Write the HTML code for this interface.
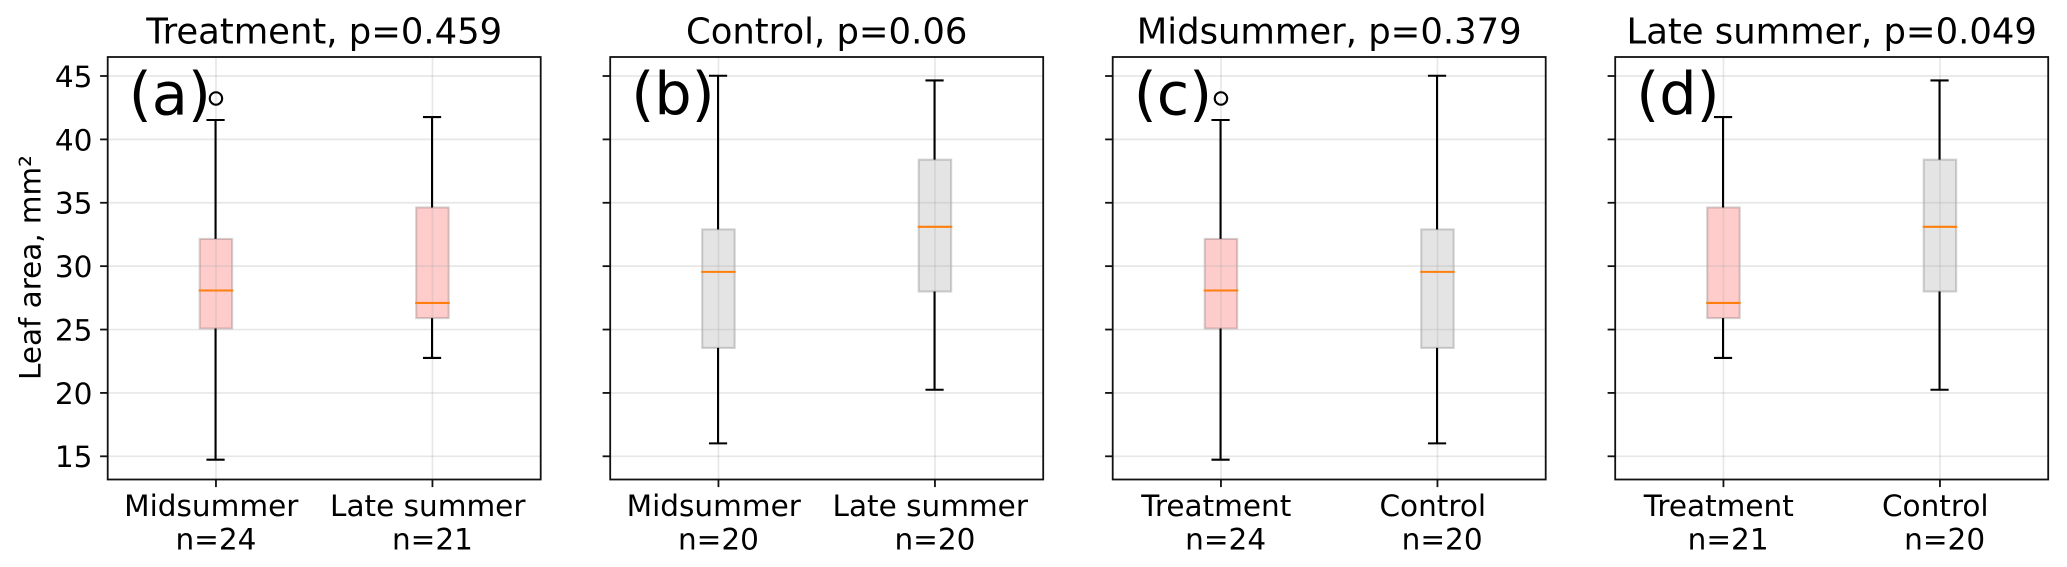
<!DOCTYPE html>
<html lang="en">
<head>
<meta charset="utf-8">
<title>Leaf area box plots</title>
<style>
html,body{margin:0;padding:0;background:#fff;}
svg{display:block;}
text{font-family:"DejaVu Sans","Liberation Sans",sans-serif;fill:#000;white-space:pre;}
</style>
</head>
<body>
<svg id="chart" xmlns="http://www.w3.org/2000/svg" width="2067" height="567" viewBox="0 0 2067 567"></svg>
<script>
const panelTitles = ["Treatment, p=0.459", "Control, p=0.06", "Midsummer, p=0.379", "Late summer, p=0.049"];
const panelTags = ["(a)", "(b)", "(c)", "(d)"];
const panelCategories = [
  ["Midsummer ", "Late summer "],
  ["Midsummer ", "Late summer "],
  ["Treatment ", "Control "],
  ["Treatment ", "Control "]
];
const panelSampleLabels = [
  ["n=24", "n=21"],
  ["n=20", "n=20"],
  [" n=24", " n=20"],
  [" n=21", " n=20"]
];
const yTicks = [15, 20, 25, 30, 35, 40, 45];
const yLabelText = "Leaf area, mm\u00B2";

/* stats: whisker low, Q1, median, Q3, whisker high */
const treatmentMidsummer = [14.73, 25.08, 28.08, 32.15, 41.53];
const treatmentLateSummer = [22.76, 25.9, 27.1, 34.63, 41.76];
const controlMidsummer = [16.02, 23.55, 29.55, 32.9, 45.02];
const controlLateSummer = [20.25, 28.0, 33.1, 38.4, 44.65];
const treatmentMidsummerOutliers = [43.23];
const treatmentLateSummerOutliers = [];
const controlMidsummerOutliers = [];
const controlLateSummerOutliers = [];

const panelStats = [
  [treatmentMidsummer, treatmentLateSummer],
  [controlMidsummer, controlLateSummer],
  [treatmentMidsummer, controlMidsummer],
  [treatmentLateSummer, controlLateSummer]
];
const panelOutliers = [
  [treatmentMidsummerOutliers, treatmentLateSummerOutliers],
  [controlMidsummerOutliers, controlLateSummerOutliers],
  [treatmentMidsummerOutliers, controlMidsummerOutliers],
  [treatmentLateSummerOutliers, controlLateSummerOutliers]
];
const panelGroups = [
  ["treatment", "treatment"],
  ["control", "control"],
  ["treatment", "control"],
  ["treatment", "control"]
];

const svg = document.getElementById('chart');
const NS = 'http://www.w3.org/2000/svg';
const plotTop = 57, plotBottom = 479.5, plotWidth = 433, firstLeft = 107.7, panelStep = 502.5;
const yDomainTop = 46.5, yDomainBottom = 13.17;
const xDomainLeft = 0.5, xDomainRight = 2.5;
const boxWidthUnits = 0.15, capWidthUnits = 0.084;
const groupFill = {treatment: 'rgba(255,0,0,0.2)', control: 'rgba(128,128,128,0.21)'};

function yScale(v) {
  return plotTop + (yDomainTop - v) / (yDomainTop - yDomainBottom) * (plotBottom - plotTop);
}
function xScale(pos, left) {
  return left + (pos - xDomainLeft) / (xDomainRight - xDomainLeft) * plotWidth;
}
function make(tag, attrs, parent) {
  const el = document.createElementNS(NS, tag);
  for (const k in attrs) el.setAttribute(k, attrs[k]);
  (parent || svg).appendChild(el);
  return el;
}
function seg(x1, y1, x2, y2, stroke, width, parent) {
  return make('line', {x1: x1, y1: y1, x2: x2, y2: y2, stroke: stroke, 'stroke-width': width}, parent);
}

const gridColor = 'rgba(176,176,176,0.3)';

panelTitles.forEach(function (title, p) {
  const left = firstLeft + p * panelStep;
  const right = left + plotWidth;
  const group = make('g', {});
  
  

  const background = make('rect', {x: left, y: plotTop, width: plotWidth, height: plotBottom - plotTop, fill: '#fff'}, group);
  
  

  /* boxes under the grid */
  panelStats[p].forEach(function (stats, i) {
    const cx = xScale(i + 1, left);
    const halfBox = boxWidthUnits / 2 * plotWidth / (xDomainRight - xDomainLeft);
    const box = make('rect', {
      x: cx - halfBox, y: yScale(stats[3]), width: 2 * halfBox, height: yScale(stats[1]) - yScale(stats[3]),
      fill: groupFill[panelGroups[p][i]], stroke: 'rgba(0,0,0,0.17)', 'stroke-width': 2.1
    }, group);
    
    
  });

  /* grid */
  yTicks.forEach(function (t) {
    const gridLine = seg(left, yScale(t), right, yScale(t), gridColor, 1.7, group);
    
    
  });
  [1, 2].forEach(function (pos) {
    const gridLine = seg(xScale(pos, left), plotTop, xScale(pos, left), plotBottom, gridColor, 1.7, group);
    
    
  });

  /* whiskers, caps, medians, outliers */
  panelStats[p].forEach(function (stats, i) {
    const cx = xScale(i + 1, left) - 0.4;
    const halfBox = boxWidthUnits / 2 * plotWidth / (xDomainRight - xDomainLeft);
    const halfCap = capWidthUnits / 2 * plotWidth / (xDomainRight - xDomainLeft);

    const lowerWhisker = seg(cx, yScale(stats[1]), cx, yScale(stats[0]), '#000', 2.1, group);
    
    

    const upperWhisker = seg(cx, yScale(stats[3]), cx, yScale(stats[4]), '#000', 2.1, group);
    
    

    const lowerCap = seg(cx - halfCap, yScale(stats[0]), cx + halfCap, yScale(stats[0]), '#000', 2.1, group);
    
    

    const upperCap = seg(cx - halfCap, yScale(stats[4]), cx + halfCap, yScale(stats[4]), '#000', 2.1, group);
    
    

    const median = seg(cx - halfBox - 0.6, yScale(stats[2]), cx + halfBox + 1.4, yScale(stats[2]), '#ff7f0e', 2.1, group);
    
    

    panelOutliers[p][i].forEach(function (v) {
      const outlier = make('circle', {cx: cx + 0.4, cy: yScale(v), r: 6.2, fill: 'none', stroke: '#000', 'stroke-width': 2.1}, group);
      
      
    });
  });

  /* spines */
  const frame = make('rect', {x: left, y: plotTop, width: plotWidth, height: plotBottom - plotTop, fill: 'none', stroke: '#111', 'stroke-width': 1.8}, group);
  
  

  /* y ticks */
  yTicks.forEach(function (t) {
    const tick = seg(left - 7.6, yScale(t), left, yScale(t), '#111', 1.8, group);
    
    
    if (p === 0) {
      const tickLabel = make('text', {x: left - 15.2, y: yScale(t) + 10.9, 'font-size': 29.6, 'text-anchor': 'end'}, group);
      tickLabel.textContent = String(t);
      
      
    }
  });

  /* x ticks and labels */
  [0, 1].forEach(function (i) {
    const tx = xScale(i + 1, left);
    const tick = seg(tx, plotBottom, tx, plotBottom + 7.6, '#111', 1.8, group);
    
    

    const catLabel = make('text', {x: tx, y: 516, 'font-size': 29.5, 'text-anchor': 'middle'}, group);
    catLabel.textContent = panelCategories[p][i];
    
    

    const sampleLabel = make('text', {x: tx, y: 549.5, 'font-size': 29.5, 'text-anchor': 'middle'}, group);
    sampleLabel.textContent = panelSampleLabels[p][i];
    
    
  });

  /* title and panel tag */
  const titleEl = make('text', {x: left + plotWidth / 2, y: 43.3, 'font-size': 35.4, 'text-anchor': 'middle'}, group);
  titleEl.textContent = title;
  
  

  const tagEl = make('text', {x: left + 21, y: 114.3, 'font-size': 59}, group);
  tagEl.textContent = panelTags[p];
  
  
});

const yAxisTitle = make('text', {x: 0, y: 0, 'font-size': 29.4, 'text-anchor': 'middle', transform: 'translate(40.5 267.5) rotate(-90)'});
yAxisTitle.textContent = yLabelText;


</script>
</body>
</html>
